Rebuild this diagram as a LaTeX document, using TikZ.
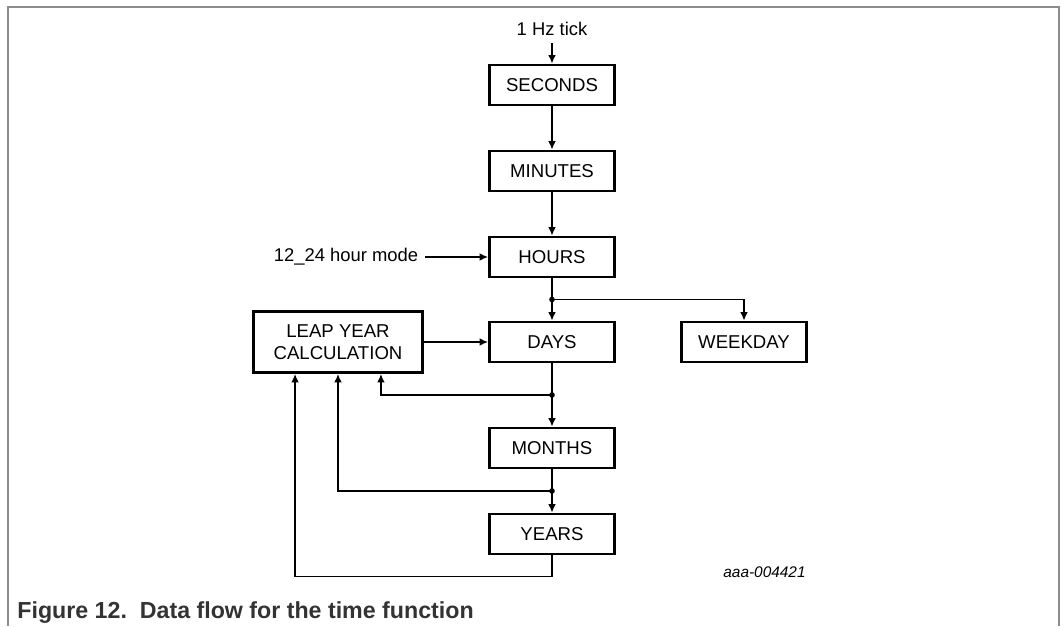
\documentclass[tikz,border=0pt]{standalone}
\usepackage{fontspec}
\setmainfont{Liberation Sans}
\usetikzlibrary{arrows.meta,shadows,calc}

\begin{document}
\begin{tikzpicture}[x=0.5pt,y=-0.5pt,>={Latex[length=4.2pt,width=3.8pt]},node distance=43pt,
		block/.style={shape=rectangle,draw,line width=1.4pt,fill=white,minimum width=62.5pt,minimum height=20pt,inner sep=2pt,font=\fontsize{9.3}{10.9}\selectfont,drop shadow={shadow xshift=0.7pt,shadow yshift=-0.7pt,fill=black,opacity=1}},
		label/.style={font=\fontsize{9.2}{10.8}\selectfont},
		flow/.style={->,line width=0.75pt},
		wire/.style={line width=0.75pt}]
					\useasboundingbox (0,0) rectangle (1064,626);
					\draw[black!45,line width=1pt] (8,626) -- (8,7) -- (1059,7) -- (1059,626);

					\node (seconds) [block] at (552,85) {SECONDS};
					\node (minutes) [block] [below of = seconds] {MINUTES};
					\node (hours) [block] [below of = minutes] {HOURS};
					\node (days) [block] [below of = hours, node distance=42.5pt] {DAYS};
					\node (months) [block] [below of = days, node distance=53pt] {MONTHS};
					\node (years) [block] [below of = months] {YEARS};
					\node (weekday) [block] [right of = days, node distance=96pt] {WEEKDAY};
					\node (leap) [block, minimum width=84.5pt, minimum height=30.5pt, align=center] [left of = days, node distance=107pt] {LEAP YEAR\\CALCULATION};
					\node (tick) [label] [above of = seconds, node distance=28pt] {1 Hz tick};
					\node (mode) [label] [left of = hours, node distance=103pt] {12\_24 hour mode};

					\coordinate (hoursjoin) at ($(hours.south)!0.5!(days.north)$);
					\coordinate (daysjoin) at ($(days.south)!0.5!(months.north)$);
					\coordinate (monthsjoin) at ($(months.south)!0.5!(years.north)$);
					\coordinate (yearsturn) at ($(years.south)+(0,21)$);
					\coordinate (leapa) at ($(leap.south west)!0.25!(leap.south east)$);
					\coordinate (leapb) at ($(leap.south west)!0.5!(leap.south east)$);
					\coordinate (leapc) at ($(leap.south west)!0.75!(leap.south east)$);

					\path[flow](tick) edge (seconds);
					\path[flow](seconds) edge (minutes);
					\path[flow](minutes) edge (hours);
					\path[flow](mode) edge (hours);
					\path[flow](leap) edge (days);
					\draw[wire] (hours) -- (hoursjoin);
					\draw[flow] (hoursjoin) -- (days);
					\draw[flow] (hoursjoin) -| (weekday);
					\draw[wire] (days) -- (daysjoin);
					\draw[flow] (daysjoin) -- (months);
					\draw[flow] (daysjoin) -| (leapc);
					\draw[wire] (months) -- (monthsjoin);
					\draw[flow] (monthsjoin) -- (years);
					\draw[flow] (monthsjoin) -| (leapb);
					\draw[flow] (years) -- (yearsturn) -| (leapa);
					\fill (hoursjoin) circle (1.4pt);
					\fill (daysjoin) circle (1.4pt);
					\fill (monthsjoin) circle (1.4pt);

					\node (figid) [anchor=base west, inner sep=0pt, font=\fontsize{7.7}{9}\selectfont\itshape] at (723,577) {aaa-004421};
					\node (caption) [anchor=base west, inner sep=0pt, text=black!80, font=\fontsize{11.6}{13}\selectfont\bfseries] at (17,618) {Figure 12.\ \ Data flow for the time function};
				\end{tikzpicture}
\end{document}
